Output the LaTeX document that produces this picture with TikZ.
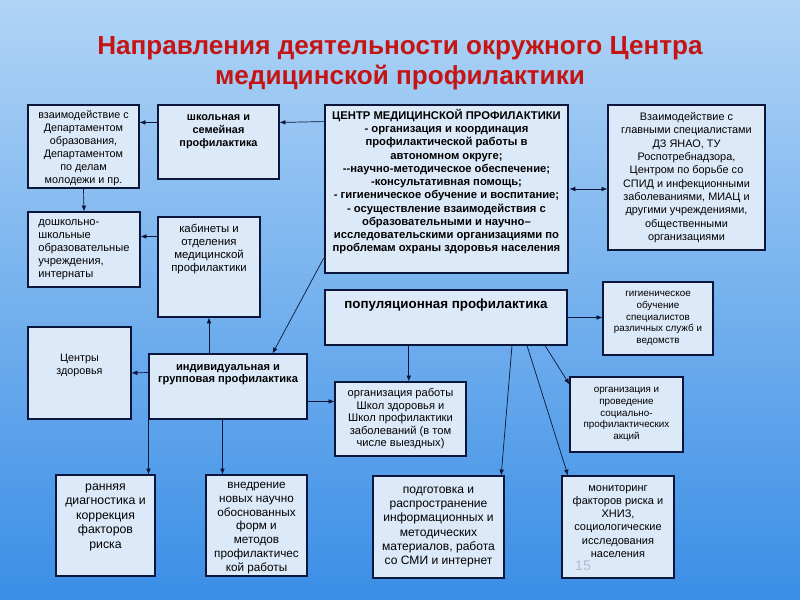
\documentclass[tikz,border=0pt]{standalone}
\usepackage{fontspec}
\setmainfont{Liberation Sans}
\usetikzlibrary{arrows.meta,positioning,calc}
\definecolor{titlered}{RGB}{196,20,20}
\definecolor{boxline}{RGB}{12,22,58}
\definecolor{boxfill}{RGB}{220,233,249}
\definecolor{bgtop}{RGB}{176,212,246}
\definecolor{bgmid}{RGB}{112,176,238}
\definecolor{bgbot}{RGB}{58,142,230}
\definecolor{pagegray}{RGB}{178,190,208}
\newcommand{\topalign}[3]{\begin{minipage}[c][#1][t]{#2}\centering #3\end{minipage}}

\begin{document}
\begin{tikzpicture}[
  x=0.03cm,y=-0.03cm,
  box/.style={rectangle,draw=boxline,line width=0.9pt,fill=boxfill,align=center,
              inner sep=2pt,font=\fontsize{9.2}{11.2}\selectfont},
  boldbox/.style={box,font=\fontsize{9.3}{11}\selectfont\bfseries},
  main/.style={boldbox,line width=2.4pt,font=\fontsize{9.6}{11.3}\selectfont\bfseries},
  smallbox/.style={box,font=\fontsize{8.4}{10}\selectfont},
  arr/.style={-{Latex[length=5pt,width=4pt]},draw=boxline,line width=0.6pt}
]
  \useasboundingbox (0,0) rectangle (800,600);
  \shade[top color=bgtop,middle color=bgmid,bottom color=bgbot] (0,0) rectangle (800,600);

  \node[text=titlered,font=\fontsize{22.3}{25.5}\selectfont\bfseries,align=center] (title) at (400,63)
    {Направления деятельности окружного Центра\\медицинской профилактики};

  % top row
  \node[box,font=\fontsize{9.2}{11}\selectfont,minimum width=3.33cm,minimum height=2.49cm] (dept) at (83.5,146.5)
    {\topalign{2.35cm}{3.15cm}{\vspace*{3pt}взаимодействие с\\Департаментом\\образования,\\Департаментом\\по делам\\молодежи и пр.}};
  \node[boldbox,minimum width=3.63cm,minimum height=2.22cm] (school) at (218.5,142)
    {\topalign{2.0cm}{3.4cm}{\vspace*{5pt}школьная и\\семейная\\профилактика}};
  \node[main,minimum width=7.29cm,minimum height=5.04cm] (center) at (446.5,189)
    {\topalign{4.85cm}{7.1cm}{\vspace*{1pt}ЦЕНТР МЕДИЦИНСКОЙ ПРОФИЛАКТИКИ\\- организация и координация\\профилактической работы в\\автономном округе;\\-{}-научно-методическое обеспечение;\\-консультативная помощь;\\- гигиеническое обучение и воспитание;\\- осуществление взаимодействия с\\образовательными и научно–\\исследовательскими организациями по\\проблемам охраны здоровья населения}};
  \node[box,font=\fontsize{9.3}{11.4}\selectfont,minimum width=4.71cm,minimum height=4.35cm] (partners) at (686.5,177.5)
    {Взаимодействие с\\главными специалистами\\ДЗ ЯНАО, ТУ\\Роспотребнадзора,\\Центром по борьбе со\\СПИД и инфекционными\\заболеваниями, МИАЦ и\\другими учреждениями,\\общественными\\организациями};

  % second row
  \node[box,align=left,font=\fontsize{9.5}{11}\selectfont,minimum width=3.36cm,minimum height=2.25cm] (preschool) at (84,249.5)
    {дошкольно-\\школьные\\образовательные\\учреждения,\\интернаты};
  \node[box,font=\fontsize{9.7}{11.3}\selectfont,minimum width=3.06cm,minimum height=3.0cm] (cabinets) at (209,267)
    {\topalign{2.8cm}{2.9cm}{\vspace*{3pt}кабинеты и\\отделения\\медицинской\\профилактики}};
  \node[boldbox,font=\fontsize{11.4}{13}\selectfont\bfseries,minimum width=7.26cm,minimum height=1.65cm] (popul) at (446,317.5)
    {\topalign{1.5cm}{7.0cm}{\vspace*{5pt}популяционная профилактика}};
  \node[smallbox,minimum width=3.3cm,minimum height=2.19cm] (hygiene) at (658,318.5)
    {гигиеническое\\обучение\\специалистов\\различных служб и\\ведомств};

  % third row
  \node[box,minimum width=3.09cm,minimum height=2.76cm] (health) at (79.5,373)
    {Центры\\здоровья\\[4pt]};
  \node[boldbox,font=\fontsize{9.5}{10.4}\selectfont\bfseries,minimum width=4.74cm,minimum height=1.95cm] (indiv) at (228,386.5)
    {\topalign{1.8cm}{4.5cm}{\vspace*{7pt}индивидуальная и\\групповая профилактика}};
  \node[box,font=\fontsize{9.5}{10.7}\selectfont,minimum width=3.93cm,minimum height=2.22cm] (schools) at (400.5,419)
    {организация работы\\Школ здоровья и\\Школ профилактики\\заболеваний (в том\\числе выездных)};
  \node[smallbox,minimum width=3.39cm,minimum height=2.25cm] (actions) at (626.5,414.5)
    {организация и\\проведение\\социально-\\профилактических\\акций};

  % bottom row
  \node[box,font=\fontsize{10.5}{12.3}\selectfont,minimum width=2.97cm,minimum height=3.03cm] (early) at (105.5,525.5)
    {\topalign{2.85cm}{2.8cm}{\vspace*{5pt}ранняя\\диагностика и\\коррекция\\факторов\\риска}};
  \node[box,font=\fontsize{10}{11.8}\selectfont,minimum width=3.03cm,minimum height=3.03cm] (methods) at (256.5,525.5)
    {\topalign{2.88cm}{2.85cm}{\vspace*{4pt}внедрение\\новых научно\\обоснованных\\форм и\\методов\\профилактичес\\кой работы}};
  \node[box,font=\fontsize{10.3}{12.2}\selectfont,minimum width=3.93cm,minimum height=3.06cm] (materials) at (438.5,527)
    {подготовка и\\распространение\\информационных и\\методических\\материалов, работа\\со СМИ и интернет};
  \node[box,font=\fontsize{9.4}{11.2}\selectfont,minimum width=3.36cm,minimum height=3.06cm] (monitor) at (618,527)
    {\topalign{2.9cm}{3.2cm}{\vspace*{6pt}мониторинг\\факторов риска и\\ХНИЗ,\\социологические\\исследования\\населения}};
  \node[text=pagegray,font=\fontsize{12}{12}\selectfont] (pagenum) at (583,566) {15};

  % connectors
  \draw[arr] ([yshift=-0.54cm]center.north west) -- ([yshift=-0.54cm]school.north east);
  \draw[arr] ([yshift=-0.54cm]school.north west) -- ([yshift=-0.54cm]dept.north east);
  \draw[arr] (dept.south) -- (preschool.north);
  \draw[arr] ([yshift=-0.6cm]cabinets.north west) -- ([yshift=-0.75cm]preschool.north east);
  \draw[arr] (cabinets.south |- indiv.north) -- (cabinets.south);
  \draw[arr] ([yshift=0.48cm]center.south west) -- ([xshift=-1.05cm]indiv.north east);
  \draw[arr] ([yshift=-0.57cm]indiv.north west) -- (health.east);
  \draw[arr] ([yshift=-1.44cm]indiv.north east) -- ([yshift=-0.6cm]schools.north west);
  \draw[arr] (indiv.south west) -- (indiv.south west |- early.north);
  \draw[arr] ([xshift=2.22cm]indiv.south west) -- ([xshift=0.51cm]methods.north west);
  \draw[arr,{Latex[length=5pt,width=4pt]}-{Latex[length=5pt,width=4pt]}] (center.east) -- (center.east -| partners.west);
  \draw[arr] (popul.east) -- (popul.east -| hygiene.west);
  \draw[arr] ([xshift=0.25cm]schools.north |- popul.south) -- ([xshift=0.25cm]schools.north);
  \draw[arr] ([xshift=1.98cm]popul.south) -- ([xshift=1.88cm]materials.north);
  \draw[arr] ([xshift=2.43cm]popul.south) -- ([xshift=-1.5cm]monitor.north);
  \draw[arr] ([xshift=2.97cm]popul.south) -- ([yshift=-0.24cm]actions.north west);
\end{tikzpicture}
\end{document}
